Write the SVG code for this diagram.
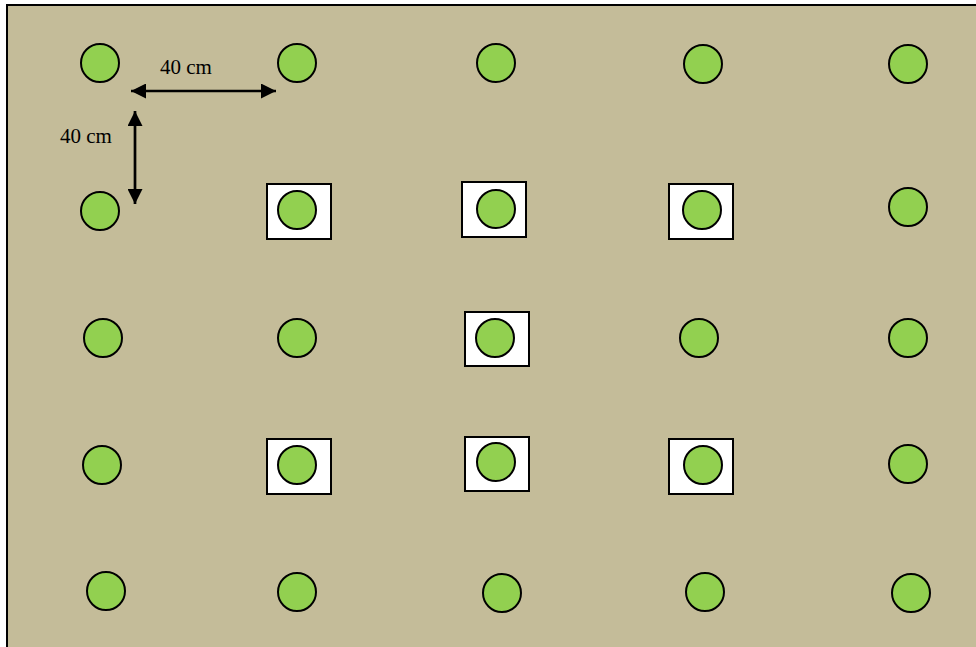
<svg xmlns="http://www.w3.org/2000/svg" width="976" height="647" viewBox="0 0 976 647">
<style>
.p{fill:#92d050;stroke:#000;stroke-width:2}
.b{fill:#fff;stroke:#000;stroke-width:2}
.t{font-family:"Liberation Serif",serif;font-size:21px;fill:#000}
.a{stroke:#000;stroke-width:2.7;fill:none}
</style>
<defs>
<marker id="ah" viewBox="0 0 15 15" refX="15" refY="7.5" markerWidth="15" markerHeight="15" orient="auto-start-reverse" markerUnits="userSpaceOnUse">
<path d="M0,0 L15,7.5 L0,15 z" fill="#000"/>
</marker>
</defs>
<rect x="7" y="5" width="975" height="650" fill="#c4bc99" stroke="#000" stroke-width="2"/>
<g id="boxes">
<rect class="b" x="267" y="184" width="64" height="55"/>
<rect class="b" x="462" y="182" width="64" height="55"/>
<rect class="b" x="669" y="184" width="64" height="55"/>
<rect class="b" x="465" y="312" width="64" height="54"/>
<rect class="b" x="267" y="439" width="64" height="55"/>
<rect class="b" x="465" y="437" width="64" height="54"/>
<rect class="b" x="669" y="439" width="64" height="55"/>
</g>
<g id="plants">
<circle class="p" cx="100" cy="63" r="19"/>
<circle class="p" cx="297" cy="63" r="19"/>
<circle class="p" cx="496" cy="63" r="19"/>
<circle class="p" cx="703" cy="64" r="19"/>
<circle class="p" cx="908" cy="64" r="19"/>
<circle class="p" cx="100" cy="211" r="19"/>
<circle class="p" cx="297" cy="210" r="19"/>
<circle class="p" cx="496" cy="209" r="19"/>
<circle class="p" cx="702" cy="210" r="19"/>
<circle class="p" cx="908" cy="207" r="19"/>
<circle class="p" cx="103" cy="338" r="19"/>
<circle class="p" cx="297" cy="338" r="19"/>
<circle class="p" cx="495" cy="338" r="19"/>
<circle class="p" cx="699" cy="338" r="19"/>
<circle class="p" cx="908" cy="338" r="19"/>
<circle class="p" cx="102" cy="465" r="19"/>
<circle class="p" cx="297" cy="465" r="19"/>
<circle class="p" cx="496" cy="462" r="19"/>
<circle class="p" cx="703" cy="465" r="19"/>
<circle class="p" cx="908" cy="464" r="19"/>
<circle class="p" cx="106" cy="591" r="19"/>
<circle class="p" cx="297" cy="592" r="19"/>
<circle class="p" cx="502" cy="593" r="19"/>
<circle class="p" cx="705" cy="592" r="19"/>
<circle class="p" cx="911" cy="593" r="19"/>
</g>
<g id="connectors">
<line class="a" x1="131" y1="91" x2="276" y2="91" marker-start="url(#ah)" marker-end="url(#ah)"/>
<line class="a" x1="135" y1="111" x2="135" y2="204" marker-start="url(#ah)" marker-end="url(#ah)"/>
</g>
<g id="labels">
<text class="t" x="160" y="74">40 cm</text>
<text class="t" x="60" y="143">40 cm</text>
</g>
</svg>
